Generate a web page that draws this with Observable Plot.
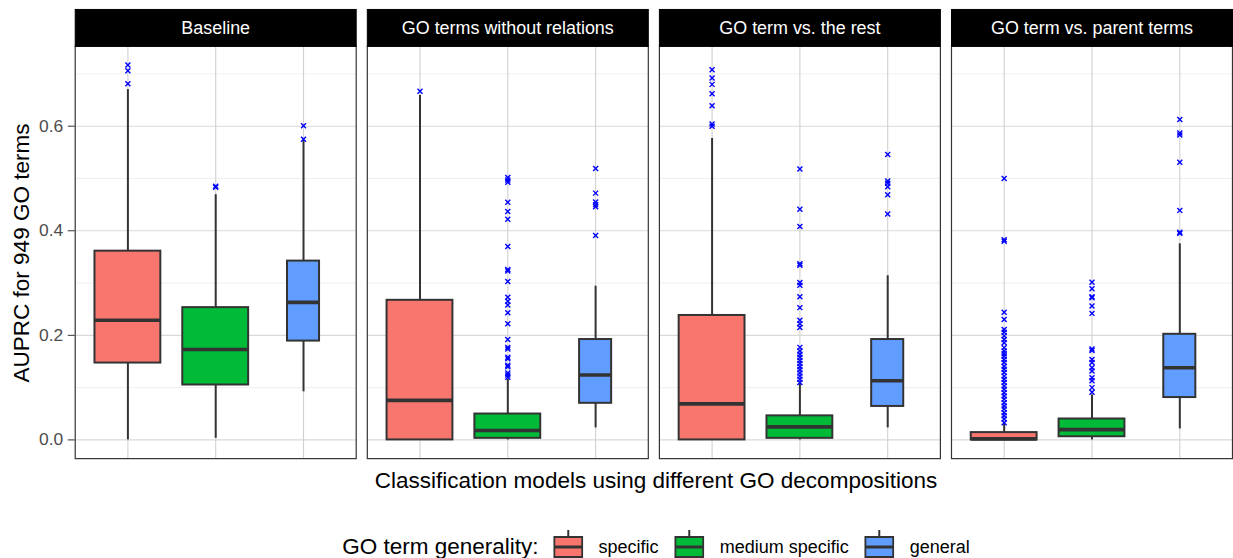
<!DOCTYPE html>
<html>
<head>
<meta charset="utf-8">
<script src="https://cdn.jsdelivr.net/npm/d3@7"></script>
<script src="https://cdn.jsdelivr.net/npm/@observablehq/plot@0.6"></script>
<style>
html,body{margin:0;padding:0;overflow:hidden;background:#fff;width:1233px;height:558px}
#wrap{position:relative;width:1233px;height:558px;overflow:hidden;font-family:"Liberation Sans",Arial,Helvetica,sans-serif;color:#000}
#chart{position:absolute;left:0;top:0}
.ytitle{position:absolute;left:22px;top:253px;transform:translate(-50%,-50%) rotate(-90deg);font-size:22.5px;white-space:nowrap}
.xtitle{position:absolute;left:656px;top:481px;transform:translate(-50%,-50%);font-size:22.5px;white-space:nowrap}
.legend{position:absolute;top:547px;left:656px;transform:translate(-50%,-50%);display:flex;align-items:center;white-space:nowrap}
.legend .lt{font-size:22.5px;margin-right:15px}
.legend .lab{font-size:18px;margin-left:15px;margin-right:16px}
.legend svg{display:block}
</style>
</head>
<body>
<div id="wrap">
  <div id="chart"></div>
  <div class="ytitle">AUPRC for 949 GO terms</div>
  <div class="xtitle">Classification models using different GO decompositions</div>
  <div class="legend" id="legend"></div>
</div>
<script>
// ---- data ----
const panels = ["Baseline", "GO terms without relations", "GO term vs. the rest", "GO term vs. parent terms"];
const generality = ["specific", "medium specific", "general"];
const colors = ["#F8766D", "#00BA38", "#619CFF"];
const legendTitle = "GO term generality:";

// per panel: [specific, medium specific, general]
const whiskerLow  = [[0.000, 0.003, 0.092], [0.000, 0.000, 0.023], [0.000, 0.000, 0.023], [0.000, 0.000, 0.021]];
const q1          = [[0.147, 0.105, 0.189], [0.000, 0.003, 0.070], [0.000, 0.003, 0.064], [0.000, 0.006, 0.081]];
const medians     = [[0.229, 0.173, 0.263], [0.0756, 0.018, 0.124], [0.069, 0.025, 0.113], [0.002, 0.0197, 0.138]];
const q3          = [[0.361, 0.253, 0.342], [0.267, 0.0495, 0.192], [0.238, 0.046, 0.192], [0.014, 0.040, 0.202]];
const whiskerHigh = [[0.670, 0.469, 0.573], [0.659, 0.116, 0.294], [0.5765, 0.107, 0.314], [0.030, 0.086, 0.375]];

const outliers = [
  [ // Baseline
    [0.717, 0.706, 0.681],
    [0.485, 0.483],
    [0.601, 0.575]
  ],
  [ // GO terms without relations
    [0.667],
    [0.502, 0.497, 0.493, 0.4546, 0.437, 0.422, 0.370, 0.326, 0.323, 0.303, 0.273, 0.265, 0.258, 0.243,
     0.222, 0.192, 0.177, 0.174, 0.158, 0.155, 0.143, 0.140, 0.128, 0.124, 0.120],
    [0.519, 0.472, 0.455, 0.450, 0.446, 0.391]
  ],
  [ // GO term vs. the rest
    [0.708, 0.692, 0.680, 0.662, 0.639, 0.604, 0.600],
    [0.518, 0.441, 0.408, 0.337, 0.334, 0.301, 0.296, 0.274, 0.253, 0.229, 0.222, 0.215,
     0.177, 0.170, 0.164, 0.158, 0.152, 0.146, 0.140, 0.134, 0.128, 0.122, 0.116, 0.110],
    [0.546, 0.495, 0.491, 0.484, 0.469, 0.432]
  ],
  [ // GO term vs. parent terms
    [0.500, 0.383, 0.380, 0.244, 0.2305, 0.211, 0.206, 0.199, 0.192, 0.186, 0.1765, 0.170, 0.165, 0.160,
     0.154, 0.148, 0.141, 0.135, 0.129, 0.122, 0.116, 0.110, 0.103, 0.097, 0.090, 0.084, 0.078,
     0.071, 0.065, 0.059, 0.052, 0.046, 0.040, 0.033],
    [0.3015, 0.289, 0.274, 0.272, 0.256, 0.242, 0.174, 0.171, 0.154, 0.148, 0.138, 0.132, 0.119, 0.113, 0.100, 0.091],
    [0.613, 0.587, 0.583, 0.531, 0.439, 0.397, 0.395]
  ]
];

const yTicks = [0, 0.2, 0.4, 0.6];
const yMinor = [0.1, 0.3, 0.5, 0.7];

// ---- styling constants ----
const boxWidth = [0.75, 0.75, 0.365];   // relative widths (general boxes are narrower)
const lineColor = "#333333";

// ---- build tables ----
const boxes = [];
const points = [];
panels.forEach((p, i) => generality.forEach((g, j) => {
  boxes.push({panel: p, gen: g, idx: j + 1, w: boxWidth[j],
    lo: whiskerLow[i][j], q1: q1[i][j], med: medians[i][j], q3: q3[i][j], hi: whiskerHigh[i][j]});
  outliers[i][j].forEach(v => points.push({panel: p, gen: g, idx: j + 1, value: v}));
}));

const marginTop = 46, marginBottom = 40, height = 500;
const frameH = height - marginTop - marginBottom;

const chart = Plot.plot({
  width: 1238,
  height,
  marginLeft: 75,
  marginRight: 1,
  marginTop,
  marginBottom,
  style: {fontFamily: "Liberation Sans, Arial, Helvetica, sans-serif", background: "white", overflow: "visible"},
  fx: {domain: panels, paddingInner: 0.038, paddingOuter: 0, round: false, axis: null},
  x: {domain: [0.4, 3.6], axis: null},
  y: {domain: [-0.0358, 0.7528], axis: null},
  color: {domain: generality, range: colors},
  marks: [
    Plot.ruleY(yMinor, {stroke: "#ebebeb", strokeWidth: 0.8}),
    Plot.ruleY(yTicks, {stroke: "#d9d9d9", strokeWidth: 1.1}),
    Plot.ruleX([1, 2, 3], {stroke: "#d0d0d0", strokeWidth: 1.1}),
    Plot.ruleX(boxes, {fx: "panel", x: "idx", y1: "lo", y2: "q1", stroke: lineColor, strokeWidth: 2}),
    Plot.ruleX(boxes, {fx: "panel", x: "idx", y1: "q3", y2: "hi", stroke: lineColor, strokeWidth: 2}),
    Plot.rect(boxes, {fx: "panel", x1: d => d.idx - d.w / 2, x2: d => d.idx + d.w / 2, y1: "q1", y2: "q3",
      fill: "gen", stroke: lineColor, strokeWidth: 2}),
    Plot.ruleY(boxes, {fx: "panel", y: "med", x1: d => d.idx - d.w / 2, x2: d => d.idx + d.w / 2,
      stroke: lineColor, strokeWidth: 3.6}),
    Plot.dot(points, {fx: "panel", x: "idx", y: "value", symbol: "times", r: 2.4, stroke: "blue", strokeWidth: 1.4}),
    Plot.frame({stroke: lineColor, strokeWidth: 1.2}),
    Plot.frame({fill: "black", stroke: "black", insetTop: -37, insetBottom: frameH}),
    Plot.text(panels, {fx: d => d, text: d => d, frameAnchor: "top", dy: -18.5, lineAnchor: "middle",
      fill: "white", fontSize: 18}),
    Plot.axisY(yTicks, {tickFormat: d => d.toFixed(1), tickSize: 7, tickPadding: 5, fontSize: 17.5,
      stroke: lineColor, fill: "#4d4d4d", label: null})
  ]
});
document.getElementById("chart").appendChild(chart);

// ---- legend ----
const legend = document.getElementById("legend");
const t = document.createElement("span");
t.className = "lt";
t.textContent = legendTitle;
legend.appendChild(t);
generality.forEach((g, j) => {
  const ns = "http://www.w3.org/2000/svg";
  const svg = document.createElementNS(ns, "svg");
  svg.setAttribute("width", 30); svg.setAttribute("height", 36);
  const wl = document.createElementNS(ns, "line");
  wl.setAttribute("x1", 15); wl.setAttribute("x2", 15); wl.setAttribute("y1", 1); wl.setAttribute("y2", 35);
  wl.setAttribute("stroke", lineColor); wl.setAttribute("stroke-width", 2);
  svg.appendChild(wl);
  const r = document.createElementNS(ns, "rect");
  r.setAttribute("x", 1); r.setAttribute("y", 8); r.setAttribute("width", 28); r.setAttribute("height", 20);
  r.setAttribute("fill", colors[j]); r.setAttribute("stroke", lineColor); r.setAttribute("stroke-width", 2);
  svg.appendChild(r);
  const m = document.createElementNS(ns, "line");
  m.setAttribute("x1", 1); m.setAttribute("x2", 29); m.setAttribute("y1", 18); m.setAttribute("y2", 18);
  m.setAttribute("stroke", lineColor); m.setAttribute("stroke-width", 3);
  svg.appendChild(m);
  legend.appendChild(svg);
  const lab = document.createElement("span");
  lab.className = "lab";
  if (j === generality.length - 1) lab.style.marginRight = "0";
  lab.textContent = g;
  legend.appendChild(lab);
});
</script>
</body>
</html>
